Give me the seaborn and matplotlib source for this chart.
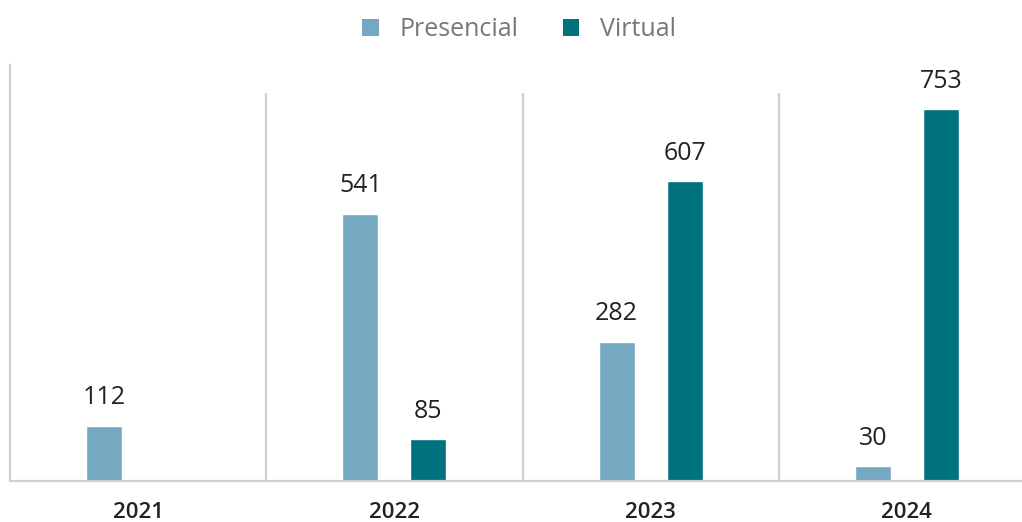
import seaborn as sns
import matplotlib.pyplot as plt
import pandas as pd
from matplotlib.patches import Patch

# datos
anios = ["2021", "2022", "2023", "2024"]
presencial = [112, 541, 282, 30]
virtual = [None, 85, 607, 753]
series = ["Presencial", "Virtual"]
colores = {"Presencial": "#75A8C1", "Virtual": "#00717E"}

df = pd.DataFrame({
    "anio": anios * 2,
    "modalidad": ["Presencial"] * 4 + ["Virtual"] * 4,
    "valor": presencial + virtual,
})

sns.set_style("white")
plt.rcParams["font.family"] = ["Open Sans", "DejaVu Sans"]

fig = plt.figure(figsize=(10.22, 5.22), dpi=100)
ax = fig.add_axes([10 / 1022, 41 / 522, 1025 / 1022, 416 / 522])

sns.barplot(
    data=df, x="anio", y="valor", hue="modalidad",
    palette=colores, width=0.53, gap=0.47, ax=ax,
    legend=False, saturation=1,
)

# etiquetas de valor
for cont in ax.containers:
    labels = [("" if pd.isna(v) else f"{int(v)}") for v in cont.datavalues]
    ax.bar_label(cont, labels=labels, padding=11, fontsize=18, color="#222222")

# separadores entre categorías
ax.vlines([0.5, 1.5, 2.5], 0, 785, color="#D0D0D0", lw=1.6, zorder=0)

ax.set_xlim(-0.5, 3.5)
ax.set_ylim(0, 842)
ax.set_yticks([])
ax.set_xlabel("")
ax.set_ylabel("")
ax.tick_params(axis="x", length=0, pad=15, labelsize=16, labelcolor="#222222")
for lbl in ax.get_xticklabels():
    lbl.set_fontweight("semibold")
for s in ["top", "right"]:
    ax.spines[s].set_visible(False)
for s in ["left", "bottom"]:
    ax.spines[s].set_color("#D0D0D0")
    ax.spines[s].set_linewidth(1.6)

handles = [Patch(facecolor=colores[s], edgecolor="none") for s in series]
fig.legend(
    handles, series, loc="center", bbox_to_anchor=(0.508, 1 - 30 / 522),
    ncol=2, frameon=False, fontsize=18, labelcolor="#777777",
    handlelength=0.65, handleheight=0.65, handletextpad=0.85, columnspacing=1.75,
)

fig.savefig("out.png", dpi=100)
